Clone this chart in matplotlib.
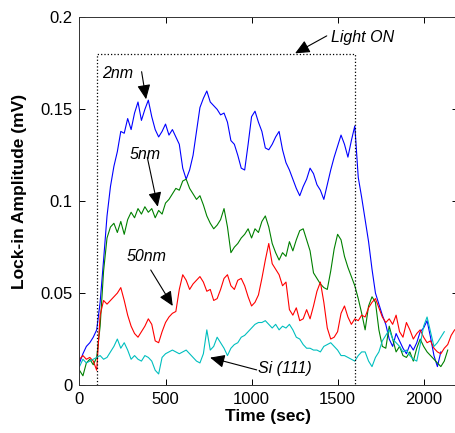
import numpy as np
import matplotlib
matplotlib.use('Agg')
import matplotlib.pyplot as plt

plt.rcParams['font.family'] = ['Liberation Sans', 'DejaVu Sans']

# lock-in amplitude (mV), sampled every 20 s from t = 0
blue_2nm = [0.012, 0.017, 0.021, 0.023, 0.026, 0.030, 0.045, 0.068, 0.092, 0.108,
            0.119, 0.127, 0.138, 0.137, 0.145, 0.139, 0.148, 0.154, 0.144, 0.150,
            0.155, 0.146, 0.139, 0.135, 0.138, 0.142, 0.136, 0.139, 0.135, 0.131,
            0.118, 0.112, 0.117, 0.125, 0.138, 0.151, 0.156, 0.160, 0.154, 0.152,
            0.150, 0.147, 0.148, 0.143, 0.133, 0.131, 0.125, 0.118, 0.117, 0.131,
            0.146, 0.149, 0.143, 0.138, 0.129, 0.128, 0.131, 0.135, 0.138, 0.128,
            0.121, 0.117, 0.112, 0.107, 0.103, 0.108, 0.112, 0.118, 0.115, 0.109,
            0.106, 0.101, 0.109, 0.117, 0.124, 0.130, 0.136, 0.131, 0.124, 0.133,
            0.141, 0.113, 0.102, 0.090, 0.078, 0.063, 0.050, 0.044, 0.038, 0.033,
            0.025, 0.021, 0.028, 0.024, 0.020, 0.017, 0.022, 0.019, 0.023, 0.029,
            0.031, 0.035, 0.026, 0.016, 0.010, 0.018]

green_5nm = [0.008, 0.005, 0.012, 0.014, 0.011, 0.015, 0.032, 0.062, 0.080, 0.086,
             0.088, 0.083, 0.089, 0.082, 0.090, 0.094, 0.091, 0.096, 0.093, 0.097,
             0.094, 0.096, 0.091, 0.095, 0.093, 0.099, 0.101, 0.104, 0.107, 0.106,
             0.111, 0.112, 0.107, 0.104, 0.101, 0.103, 0.098, 0.092, 0.088, 0.085,
             0.087, 0.090, 0.096, 0.086, 0.072, 0.075, 0.077, 0.080, 0.082, 0.085,
             0.080, 0.085, 0.083, 0.089, 0.092, 0.086, 0.077, 0.072, 0.068, 0.072,
             0.070, 0.078, 0.073, 0.079, 0.084, 0.085, 0.079, 0.073, 0.061, 0.058,
             0.055, 0.053, 0.052, 0.062, 0.074, 0.082, 0.079, 0.070, 0.064, 0.059,
             0.054, 0.047, 0.039, 0.030, 0.043, 0.048, 0.045, 0.030, 0.021, 0.020,
             0.032, 0.025, 0.018, 0.021, 0.016, 0.015, 0.018, 0.013, 0.020, 0.025,
             0.021, 0.018, 0.016, 0.014, 0.012, 0.010, 0.013, 0.019]

red_50nm = [0.014, 0.016, 0.014, 0.015, 0.013, 0.008, 0.038, 0.046, 0.044, 0.046,
            0.048, 0.050, 0.053, 0.046, 0.038, 0.032, 0.028, 0.026, 0.029, 0.032,
            0.036, 0.033, 0.024, 0.023, 0.029, 0.034, 0.037, 0.039, 0.040, 0.052,
            0.060, 0.057, 0.052, 0.055, 0.057, 0.059, 0.056, 0.051, 0.052, 0.046,
            0.047, 0.052, 0.058, 0.060, 0.054, 0.052, 0.057, 0.058, 0.054, 0.048,
            0.043, 0.045, 0.049, 0.058, 0.068, 0.077, 0.066, 0.063, 0.060, 0.054,
            0.056, 0.041, 0.038, 0.042, 0.035, 0.036, 0.041, 0.036, 0.043, 0.051,
            0.056, 0.045, 0.031, 0.025, 0.026, 0.029, 0.039, 0.043, 0.037, 0.033,
            0.036, 0.035, 0.038, 0.037, 0.042, 0.045, 0.047, 0.042, 0.037, 0.034,
            0.036, 0.033, 0.038, 0.029, 0.026, 0.034, 0.030, 0.025, 0.028, 0.030,
            0.026, 0.023, 0.024, 0.020, 0.018, 0.017, 0.020, 0.022, 0.027, 0.030]

cyan_si = [0.010, 0.014, 0.012, 0.013, 0.014, 0.015, 0.016, 0.014, 0.015, 0.018,
           0.021, 0.025, 0.020, 0.023, 0.019, 0.014, 0.016, 0.014, 0.013, 0.016,
           0.015, 0.013, 0.008, 0.006, 0.015, 0.017, 0.018, 0.019, 0.018, 0.017,
           0.018, 0.019, 0.017, 0.015, 0.013, 0.012, 0.017, 0.030, 0.019, 0.021,
           0.026, 0.023, 0.020, 0.016, 0.020, 0.022, 0.023, 0.026, 0.027, 0.029,
           0.031, 0.033, 0.034, 0.034, 0.035, 0.033, 0.031, 0.033, 0.030, 0.032,
           0.031, 0.033, 0.030, 0.026, 0.025, 0.022, 0.020, 0.020, 0.019, 0.019,
           0.018, 0.021, 0.022, 0.023, 0.021, 0.019, 0.016, 0.016, 0.015, 0.014,
           0.013, 0.016, 0.018, 0.018, 0.013, 0.010, 0.015, 0.018, 0.024, 0.027,
           0.030, 0.025, 0.023, 0.021, 0.018, 0.019, 0.016, 0.014, 0.013, 0.022,
           0.032, 0.037, 0.029, 0.021, 0.023, 0.026, 0.029]

DT = 20
light_on, light_off, box_top = 100, 1600, 0.18

x_ticks = [0, 500, 1000, 1500, 2000]
y_ticks = [0, 0.05, 0.1, 0.15, 0.2]
y_tick_labels = ['0', '0.05', '0.1', '0.15', '0.2']

fig = plt.figure(figsize=(4.55, 4.33), dpi=100)
ax = fig.add_axes([0.1747, 0.1109, 0.832, 0.8487])

series = [(blue_2nm, '#0000ff'), (green_5nm, '#008000'),
          (red_50nm, '#ff0000'), (cyan_si, '#00bfbf')]
for vals, col in series:
    t = np.arange(len(vals)) * DT
    ax.plot(t, vals, color=col, lw=0.8)

# light-on window
ax.plot([light_on, light_on, light_off, light_off],
        [0, box_top, box_top, 0], 'k:', lw=0.9)

ax.set_xlim(0, 2200)
ax.set_ylim(0, 0.2)
ax.set_xticks(x_ticks)
ax.set_yticks(y_ticks)
ax.set_yticklabels(y_tick_labels)
ax.tick_params(direction='in', top=True, right=True, length=4, width=0.7,
               labelsize=12, pad=5)
for s in ax.spines.values():
    s.set_linewidth(0.7)
    s.set_color('#333333')

ax.set_xlabel('Time (sec)', fontsize=12.5, fontweight='bold')
ax.set_ylabel('Lock-in Amplitude (mV)', fontsize=12.5, fontweight='bold')
ax.xaxis.set_label_coords(0.498, -0.086)
ax.yaxis.set_label_coords(-0.158, 0.526)
ax.xaxis.label.set_va('center')
ax.yaxis.label.set_va('center')

arrow = dict(arrowstyle='-|>,head_length=0.55,head_width=0.25', color='k',
             lw=0.8, mutation_scale=16, shrinkA=0, shrinkB=0)
labels = [
    ('Light ON', (1460, 0.189), (1437, 0.190), (1253, 0.1805)),
    ('2nm', (129, 0.1696), (361, 0.1705), (387, 0.1555)),
    ('5nm', (294, 0.1257), (394, 0.1239), (455, 0.097)),
    ('50nm', (274, 0.0698), (414, 0.0626), (542, 0.043)),
    ('Si (111)', (1040, 0.0092), (1030, 0.0082), (759, 0.0149)),
]
for txt, pos, start, tip in labels:
    ax.text(pos[0], pos[1], txt, fontsize=11.5, style='italic',
            ha='left', va='center')
    ax.annotate('', xy=tip, xytext=start, arrowprops=arrow)

fig.savefig('out.png', dpi=100)
